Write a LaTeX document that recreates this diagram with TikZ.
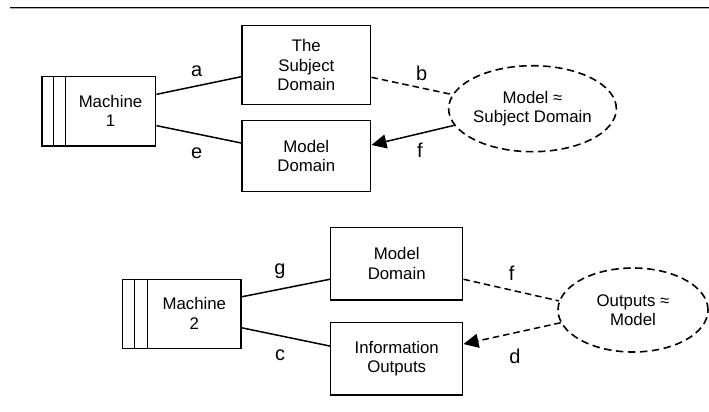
\documentclass[tikz,border=0pt]{standalone}
\usepackage{fontspec}
\setmainfont{Liberation Sans}
\usetikzlibrary{shapes.geometric,arrows.meta}
\begin{document}
\begin{tikzpicture}[x=1pt,y=-1pt,
  box/.style={draw,line width=1.5pt,rectangle,inner sep=0pt,align=center,
    font=\fontsize{16.8}{19.5}\selectfont},
  txt/.style={inner sep=0pt,align=center,font=\fontsize{16.8}{19.5}\selectfont},
  oval/.style={draw,ellipse,line width=1.6pt,dash pattern=on 7.5pt off 4.5pt,inner sep=0pt,
    align=center,font=\fontsize{16.8}{19.5}\selectfont},
  conn/.style={line width=1.5pt},
  dconn/.style={line width=1.5pt,dash pattern=on 6.5pt off 4pt},
  lbl/.style={inner sep=0pt,font=\fontsize{20}{24}\selectfont},
  tip/.style={-{Triangle[length=15pt,width=14pt]}}
]
\useasboundingbox (0,0) rectangle (709,412);
\fill[white] (0,0) rectangle (709,412);
% top rule
\draw[line width=1.1pt,gray!60] (10,8.6) -- (709,8.6);
\draw[line width=1.6pt,black] (10,7.5) -- (709,7.5);

% ---- top diagram ----
\node[box,minimum width=113.7pt,minimum height=69.3pt] (M1) at (98.85,111.35) {};
\draw[line width=1.5pt] (53.3,76.7) -- (53.3,146) (65.3,76.7) -- (65.3,146);
\node[txt] (M1t) at (110.5,111) {Machine\\1};
\node[box,minimum width=128.7pt,minimum height=78.6pt] (SD) at (306.35,65) {The\\Subject\\Domain};
\node[box,minimum width=128.7pt,minimum height=71.4pt] (MD1) at (306.35,156) {Model\\Domain};
\node[oval,minimum width=152pt,minimum height=86pt] (E1) at (532.5,108.7) {Model ≈\\Subject Domain};

\draw[conn] ([yshift=17pt]M1.east) -- ([yshift=-11.7pt]SD.west);
\draw[conn] ([yshift=-14.3pt]M1.east) -- ([yshift=13pt]MD1.west);
\draw[dconn] ([yshift=-12.3pt]SD.east) -- (E1.170.6);
\draw[conn,tip] (E1.192.7) -- ([yshift=11pt]MD1.east);
\node[lbl] (la) at (196.7,71.7) {a};
\node[lbl] (le) at (196.7,153) {e};
\node[lbl] (lb) at (421.7,73.3) {b};
\node[lbl] (lf1) at (420,150) {f};

% ---- bottom diagram ----
\node[box,minimum width=118.3pt,minimum height=69pt] (M2) at (181.85,313.8) {};
\draw[line width=1.5pt] (134.7,279.3) -- (134.7,348.3) (147.7,279.3) -- (147.7,348.3);
\node[txt] (M2t) at (194.3,313.5) {Machine\\2};
\node[box,minimum width=132pt,minimum height=72.7pt] (MD2) at (396.7,263.65) {Model\\Domain};
\node[box,minimum width=132pt,minimum height=72.3pt] (IO) at (396.7,358.85) {Information\\Outputs};
\node[oval,minimum width=150pt,minimum height=84pt] (E2) at (633,310) {Outputs ≈\\Model};

\draw[conn] ([yshift=17pt]M2.east) -- ([yshift=-15.6pt]MD2.west);
\draw[conn] ([yshift=-14pt]M2.east) -- ([yshift=12.8pt]IO.west);
\draw[dconn] ([yshift=-15.6pt]MD2.east) -- (E2.173);
\draw[dconn,tip] (E2.190) -- ([yshift=14.8pt]IO.east);
\node[lbl] (lg) at (280,271.7) {g};
\node[lbl] (lc) at (280,355) {c};
\node[lbl] (lf2) at (511.7,273.3) {f};
\node[lbl] (ld) at (515,356) {d};
\end{tikzpicture}
\end{document}
